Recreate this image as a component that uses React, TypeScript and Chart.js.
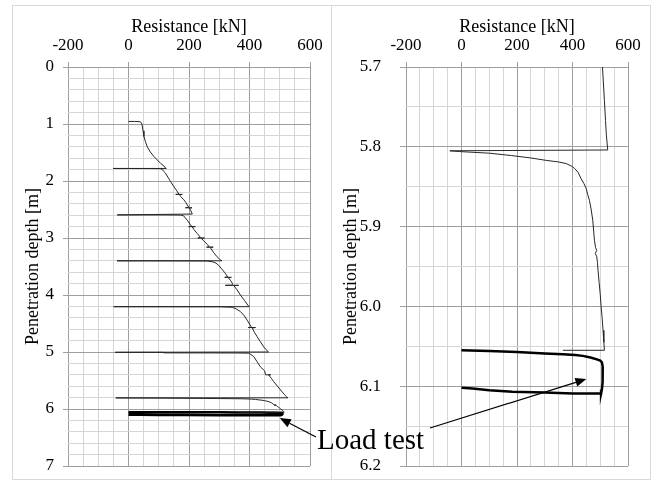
import React, { useEffect, useRef, useState } from "react";
import { Chart, registerables } from "chart.js";

Chart.register(...registerables);

// Penetration record during driving: resistance [kN] against penetration depth [m].
// Each stroke ends with an unloading to a small negative value at the same depth.
const penetrationResistance = [
  0, 20, 38, 43, 45, 48, 51, 56, 62, 72, 84, 95, 106, 116, 122, 125, -51,
  60, 106, 112, 116, 122, 130, 139, 150, 158, 167, 156, 178, 169, 172, 183, 190, 199, 188, 210, 200, 205, 211, -37,
  120, 172, 182, 188, 196, 205, 210, 199, 221, 211, 216, 227, 238, 229, 251, 240, 249, 260, 268, 258, 280, 270, 282, 293, 303, 309, -38,
  200, 260, 280, 289, 298, 306, 317, 328, 318, 340, 330, 338, 344, 342, 320, 364, 348, 359, 370, 384, 396, 398, -49,
  300, 343, 358, 370, 382, 392, 400, 407, 396, 420, 409, 417, 425, 436, 447, 455, 463, -44,
  115, 116, 350, 398, 414, 425, 436, 450, 453, 470, 463, 472, 480, 494, 508, 515, 519, 522, 527, -42,
  -6, 100, 180, 250, 305, 350, 377, 395, 407, 420, 431, 441, 449, 455, 461, 467, 473, 479, 483, 487, 482, 487, 490, 492, 496, 500, 503, 507, 510, 513, 515, 365,
];
const penetrationDepth = [
  0.955, 0.955, 0.96, 0.98, 1.02, 1.12, 1.22, 1.31, 1.4, 1.49, 1.57, 1.63, 1.69, 1.73, 1.77, 1.78, 1.78,
  1.781, 1.783, 1.8, 1.83, 1.86, 1.93, 2.01, 2.1, 2.16, 2.23, 2.235, 2.235, 2.24, 2.27, 2.33, 2.38, 2.46, 2.47, 2.47, 2.475, 2.51, 2.58, 2.595,
  2.596, 2.598, 2.61, 2.65, 2.7, 2.77, 2.8, 2.8, 2.8, 2.805, 2.85, 2.92, 2.99, 3.0, 3.0, 3.005, 3.05, 3.11, 3.16, 3.16, 3.16, 3.165, 3.26, 3.33, 3.38, 3.4, 3.4,
  3.401, 3.403, 3.42, 3.44, 3.48, 3.53, 3.6, 3.68, 3.69, 3.69, 3.695, 3.75, 3.8, 3.83, 3.83, 3.83, 3.835, 3.91, 4.0, 4.1, 4.19, 4.205, 4.205,
  4.206, 4.215, 4.25, 4.29, 4.36, 4.44, 4.51, 4.57, 4.57, 4.57, 4.58, 4.66, 4.73, 4.82, 4.91, 4.96, 5.0, 5.005,
  5.006, 5.015, 5.017, 5.02, 5.08, 5.17, 5.26, 5.33, 5.4, 5.4, 5.4, 5.46, 5.52, 5.61, 5.7, 5.742, 5.767, 5.785, 5.804, 5.805,
  5.806, 5.808, 5.811, 5.814, 5.817, 5.819, 5.821, 5.824, 5.827, 5.832, 5.84, 5.846, 5.852, 5.86, 5.867, 5.878, 5.892, 5.917, 5.926, 5.93, 5.934, 5.937, 5.945, 5.955, 5.97, 5.985, 6.0, 6.015, 6.03, 6.045, 6.055, 6.055,
];

// Static load test loop at the final depth
const loadTestResistance = [0, 100, 200, 300, 365, 410, 437, 465, 485, 500, 506, 509, 509, 508, 506, 503, 400, 300, 183, 100, 40, 0];
const loadTestDepth = [6.055, 6.056, 6.057, 6.059, 6.06, 6.061, 6.062, 6.064, 6.066, 6.068, 6.07, 6.076, 6.084, 6.095, 6.104, 6.109, 6.109, 6.108, 6.107, 6.105, 6.103, 6.102];

// Resistance axis: gridline every 50 kN, labelled every 200 kN
const resistanceRange = [-200, 600];
const resistanceStep = 50;
const resistanceLabelStep = 200;

// Depth axes of the overview and the close-up
const overviewDepthRange = [0, 7];
const overviewDepthStep = 0.2;
const overviewDepthLabelStep = 1;
const detailDepthRange = [5.7, 6.2];
const detailDepthStep = 0.05;
const detailDepthLabelStep = 0.1;

const xTitle = "Resistance [kN]";
const yTitle = "Penetration depth [m]";
const annotationText = "Load test";

const FONT = "'Liberation Serif', 'Times New Roman', Times, serif";
const MAJOR_GRID = "#9e9e9e";
const MINOR_GRID = "#d6d6d6";

const range = (min: number, max: number, step: number) => {
  const n = Math.round((max - min) / step);
  return Array.from({ length: n + 1 }, (_, i) => +(min + i * step).toFixed(6));
};
const onStep = (v: number, step: number) => {
  const r = v / step;
  return Math.abs(r - Math.round(r)) < 1e-6;
};

type Panel = {
  depthRange: number[];
  depthStep: number;
  depthLabelStep: number;
  decimals: number;
  yAxisWidth: number;
  yTickLength: number;
  yTickPadding: number;
  yTitlePad: number;
  rightPad: number;
};

function makeChart(canvas: HTMLCanvasElement, p: Panel) {
  const xTicks = range(resistanceRange[0], resistanceRange[1], resistanceStep);
  const yTicks = range(p.depthRange[0], p.depthRange[1], p.depthStep);
  const tickFont = { family: FONT, size: 17 };
  const titleFont = { family: FONT, size: 18 };
  return new Chart(canvas, {
    type: "scatter",
    data: {
      datasets: [
        {
          data: penetrationResistance.map((x, i) => ({ x, y: penetrationDepth[i] })),
          showLine: true,
          borderColor: "#262626",
          borderWidth: 1,
          pointRadius: 0,
          tension: 0,
        },
        {
          data: loadTestResistance.map((x, i) => ({ x, y: loadTestDepth[i] })),
          showLine: true,
          borderColor: "#000000",
          borderWidth: 2.5,
          pointRadius: 0,
          tension: 0,
        },
      ],
    },
    options: {
      animation: false,
      responsive: false,
      maintainAspectRatio: false,
      events: [],
      layout: { padding: { left: 0, top: 0, right: p.rightPad, bottom: 13 } },
      plugins: { legend: { display: false }, tooltip: { enabled: false } },
      scales: {
        x: {
          type: "linear",
          position: "top",
          min: resistanceRange[0],
          max: resistanceRange[1],
          afterBuildTicks: (s: any) => {
            s.ticks = xTicks.map((value) => ({ value }));
          },
          afterFit: (s: any) => {
            s.height = 62;
            s.paddingLeft = 0;
            s.paddingRight = 0;
            s.paddingTop = 0;
            s.paddingBottom = 0;
          },
          ticks: {
            autoSkip: false,
            maxRotation: 0,
            padding: 6,
            color: "#000",
            font: tickFont,
            callback: (v: any) => (onStep(Number(v), resistanceLabelStep) ? String(v) : ""),
          },
          grid: {
            color: (c: any) => (c.tick && !onStep(c.tick.value, resistanceLabelStep) ? MINOR_GRID : MAJOR_GRID),
            tickColor: (c: any) => (c.tick && !onStep(c.tick.value, resistanceLabelStep) ? "rgba(0,0,0,0)" : MAJOR_GRID),
            tickLength: 5,
            lineWidth: 1,
          },
          border: { display: false },
          title: { display: true, text: xTitle, color: "#000", font: titleFont, padding: { top: 11, bottom: 0 } },
        },
        y: {
          type: "linear",
          reverse: true,
          min: p.depthRange[0],
          max: p.depthRange[1],
          afterBuildTicks: (s: any) => {
            s.ticks = yTicks.map((value) => ({ value }));
          },
          afterFit: (s: any) => {
            s.width = p.yAxisWidth;
            s.paddingLeft = 0;
            s.paddingRight = 0;
            s.paddingTop = 0;
            s.paddingBottom = 0;
          },
          ticks: {
            autoSkip: false,
            padding: p.yTickPadding,
            color: "#000",
            font: tickFont,
            callback: (v: any) => (onStep(Number(v), p.depthLabelStep) ? Number(v).toFixed(p.decimals) : ""),
          },
          grid: {
            color: (c: any) => (c.tick && !onStep(c.tick.value, p.depthLabelStep) ? MINOR_GRID : MAJOR_GRID),
            tickColor: (c: any) => (c.tick && !onStep(c.tick.value, p.depthLabelStep) ? "rgba(0,0,0,0)" : MAJOR_GRID),
            tickLength: p.yTickLength,
            lineWidth: 1,
          },
          border: { display: false },
          title: { display: true, text: yTitle, color: "#000", font: titleFont, padding: { top: p.yTitlePad, bottom: 0 } },
        },
      },
    },
  } as any);
}

type Pt = { x: number; y: number };

function Arrow({ from, to }: { from: Pt; to: Pt }) {
  const dx = to.x - from.x;
  const dy = to.y - from.y;
  const len = Math.hypot(dx, dy) || 1;
  const ux = dx / len;
  const uy = dy / len;
  const head = 11;
  const half = 4.5;
  const bx = to.x - ux * head;
  const by = to.y - uy * head;
  const pts = `${to.x},${to.y} ${bx - uy * half},${by + ux * half} ${bx + uy * half},${by - ux * half}`;
  return (
    <g>
      <line x1={from.x} y1={from.y} x2={bx} y2={by} stroke="#000" strokeWidth={1.2} />
      <polygon points={pts} fill="#000" />
    </g>
  );
}

const LEFT_BOX = { left: 12, top: 5, width: 319, height: 474 };
const RIGHT_BOX = { left: 331, top: 5, width: 319, height: 474 };

export default function App() {
  const leftRef = useRef<HTMLCanvasElement | null>(null);
  const rightRef = useRef<HTMLCanvasElement | null>(null);
  const [tips, setTips] = useState<{ l: Pt; r: Pt } | null>(null);

  useEffect(() => {
    if (!leftRef.current || !rightRef.current) return;
    const left = makeChart(leftRef.current, {
      depthRange: overviewDepthRange,
      depthStep: overviewDepthStep,
      depthLabelStep: overviewDepthLabelStep,
      decimals: 0,
      yAxisWidth: 56,
      yTickLength: 5,
      yTickPadding: 9,
      yTitlePad: 10,
      rightPad: 21,
    });
    const right = makeChart(rightRef.current, {
      depthRange: detailDepthRange,
      depthStep: detailDepthStep,
      depthLabelStep: detailDepthLabelStep,
      decimals: 1,
      yAxisWidth: 75,
      yTickLength: 6,
      yTickPadding: 19,
      yTitlePad: 9,
      rightPad: 22,
    });
    // arrow heads point at the load-test loop in each panel
    setTips({
      l: {
        x: LEFT_BOX.left + left.scales.x.getPixelForValue(500),
        y: LEFT_BOX.top + left.scales.y.getPixelForValue(6.16),
      },
      r: {
        x: RIGHT_BOX.left + right.scales.x.getPixelForValue(450),
        y: RIGHT_BOX.top + right.scales.y.getPixelForValue(6.091),
      },
    });
    return () => {
      left.destroy();
      right.destroy();
    };
  }, []);

  const canvasStyle = (b: typeof LEFT_BOX): React.CSSProperties => ({
    position: "absolute",
    left: b.left,
    top: b.top,
    width: b.width,
    height: b.height,
    display: "block",
  });

  return (
    <div style={{ position: "absolute", left: 0, top: 0, width: 660, height: 482, background: "#fff", overflow: "hidden" }}>
      <canvas ref={leftRef} width={LEFT_BOX.width} height={LEFT_BOX.height} style={canvasStyle(LEFT_BOX)} />
      <canvas ref={rightRef} width={RIGHT_BOX.width} height={RIGHT_BOX.height} style={canvasStyle(RIGHT_BOX)} />
      <div
        style={{
          position: "absolute",
          left: 12,
          top: 5,
          width: 639,
          height: 475,
          border: "1px solid #d9d9d9",
          boxSizing: "border-box",
          pointerEvents: "none",
        }}
      />
      <div style={{ position: "absolute", left: 331, top: 5, width: 1, height: 475, background: "#d9d9d9" }} />
      <svg width={660} height={482} style={{ position: "absolute", left: 0, top: 0, pointerEvents: "none" }}>
        {tips && <Arrow from={{ x: 316, y: 437 }} to={tips.l} />}
        {tips && <Arrow from={{ x: 430, y: 428 }} to={tips.r} />}
        <text x={317} y={449} fontFamily={FONT} fontSize={29} fill="#000">
          {annotationText}
        </text>
      </svg>
    </div>
  );
}
